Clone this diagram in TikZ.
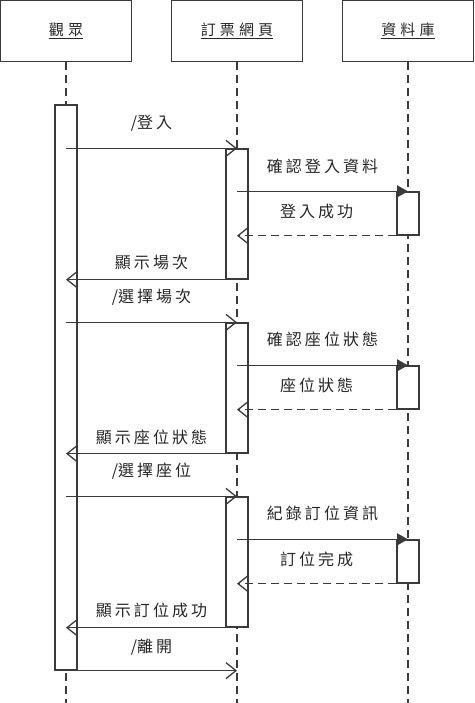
\documentclass[tikz,border=0pt]{standalone}
\usepackage{fontspec}
\setmainfont{Noto Sans CJK TC}
\newfontfamily\hdfont{Noto Sans CJK TC}[LetterSpace=27]
\newfontfamily\lbfont{Noto Sans CJK TC}[LetterSpace=19]
\newcommand\slashmark{{\rmfamily /}}
\usetikzlibrary{arrows.meta}
\definecolor{ink}{HTML}{3A3A3A}
\definecolor{txt}{HTML}{262626}
\tikzset{
  base/.style={draw=ink, line width=1.3pt},
  head/.style={base, fill=white, minimum width=131pt, minimum height=60.5pt, inner sep=0pt, text=txt, font=\hdfont\fontsize{15pt}{18pt}\selectfont},
  lifeline/.style={draw=ink, line width=1.3pt, dash pattern=on 8pt off 5pt},
  actbox/.style={base, fill=white, minimum width=22pt, inner sep=0pt},
  sync/.style={draw=ink, line width=1.3pt, -{Straight Barb[length=10pt,width=16pt]}},
  call/.style={draw=ink, line width=1.3pt, -{Triangle[length=11pt,width=12pt]}},
  reply/.style={draw=ink, line width=1.3pt, dash pattern=on 8pt off 5pt, -{Straight Barb[length=10pt,width=16pt]}},
  lbl/.style={text=txt, inner sep=0pt, font=\lbfont\fontsize{16pt}{19pt}\selectfont}
}
\begin{document}
\begin{tikzpicture}[x=1pt, y=-1pt]
\useasboundingbox (0,0) rectangle (474,703);
% headers
\node[head] (h1) at (66,31) {\underline{觀眾}};
\node[head] (h2) at (237,31) {\underline{訂票網頁}};
\node[head] (h3) at (408,31) {\underline{資料庫}};
% lifeline ends
\coordinate (e1) at (66,703);
\coordinate (e2) at (237,703);
\coordinate (e3) at (408,703);
\draw[lifeline] (h1.south) -- (e1);
\draw[lifeline] (h2.south) -- (e2);
\draw[lifeline] (h3.south) -- (e3);
% activation boxes
\node[actbox, minimum height=565pt] (a0) at (66,387.5) {};
\node[actbox, minimum height=130pt] (w1) at (237,214) {};
\node[actbox, minimum height=130pt] (w2) at (237,388) {};
\node[actbox, minimum height=130pt] (w3) at (237,562) {};
\node[actbox, minimum height=43pt] (d1) at (408,213.5) {};
\node[actbox, minimum height=43pt] (d2) at (408,387.5) {};
\node[actbox, minimum height=43pt] (d3) at (408,561.5) {};
% round 1
\draw[sync] (a0.center |- w1.north) -- node[lbl, yshift=25pt]{\slashmark 登入} (w1.north);
\draw[call] (w1.center |- d1.north) -- node[lbl, yshift=25pt]{確認登入資料} (d1.north);
\draw[reply] (d1.south west) -- node[lbl, yshift=24pt]{登入成功} (w1.center |- d1.south);
\draw[sync] (w1.south west) -- (a0.center |- w1.south);
\path (a0.center |- w1.south) -- node[lbl, yshift=17pt]{顯示場次} (w1.south);
% round 2
\draw[sync] (a0.center |- w2.north) -- node[lbl, yshift=25pt]{\slashmark 選擇場次} (w2.north);
\draw[call] (w2.center |- d2.north) -- node[lbl, yshift=26pt]{確認座位狀態} (d2.north);
\draw[reply] (d2.south west) -- node[lbl, yshift=24pt]{座位狀態} (w2.center |- d2.south);
\draw[sync] (w2.south west) -- (a0.center |- w2.south);
\path (a0.center |- w2.south) -- node[lbl, yshift=16pt]{顯示座位狀態} (w2.south);
% round 3
\draw[sync] (a0.center |- w3.north) -- node[lbl, yshift=25pt]{\slashmark 選擇座位} (w3.north);
\draw[call] (w3.center |- d3.north) -- node[lbl, yshift=26pt]{紀錄訂位資訊} (d3.north);
\draw[reply] (d3.south west) -- node[lbl, yshift=24pt]{訂位完成} (w3.center |- d3.south);
\draw[sync] (w3.south west) -- (a0.center |- w3.south);
\path (a0.center |- w3.south) -- node[lbl, yshift=17pt]{顯示訂位成功} (w3.south);
% leave
\draw[sync] (a0.south) -- node[lbl, yshift=23pt]{\slashmark 離開} (w3.center |- a0.south);
\end{tikzpicture}
\end{document}
